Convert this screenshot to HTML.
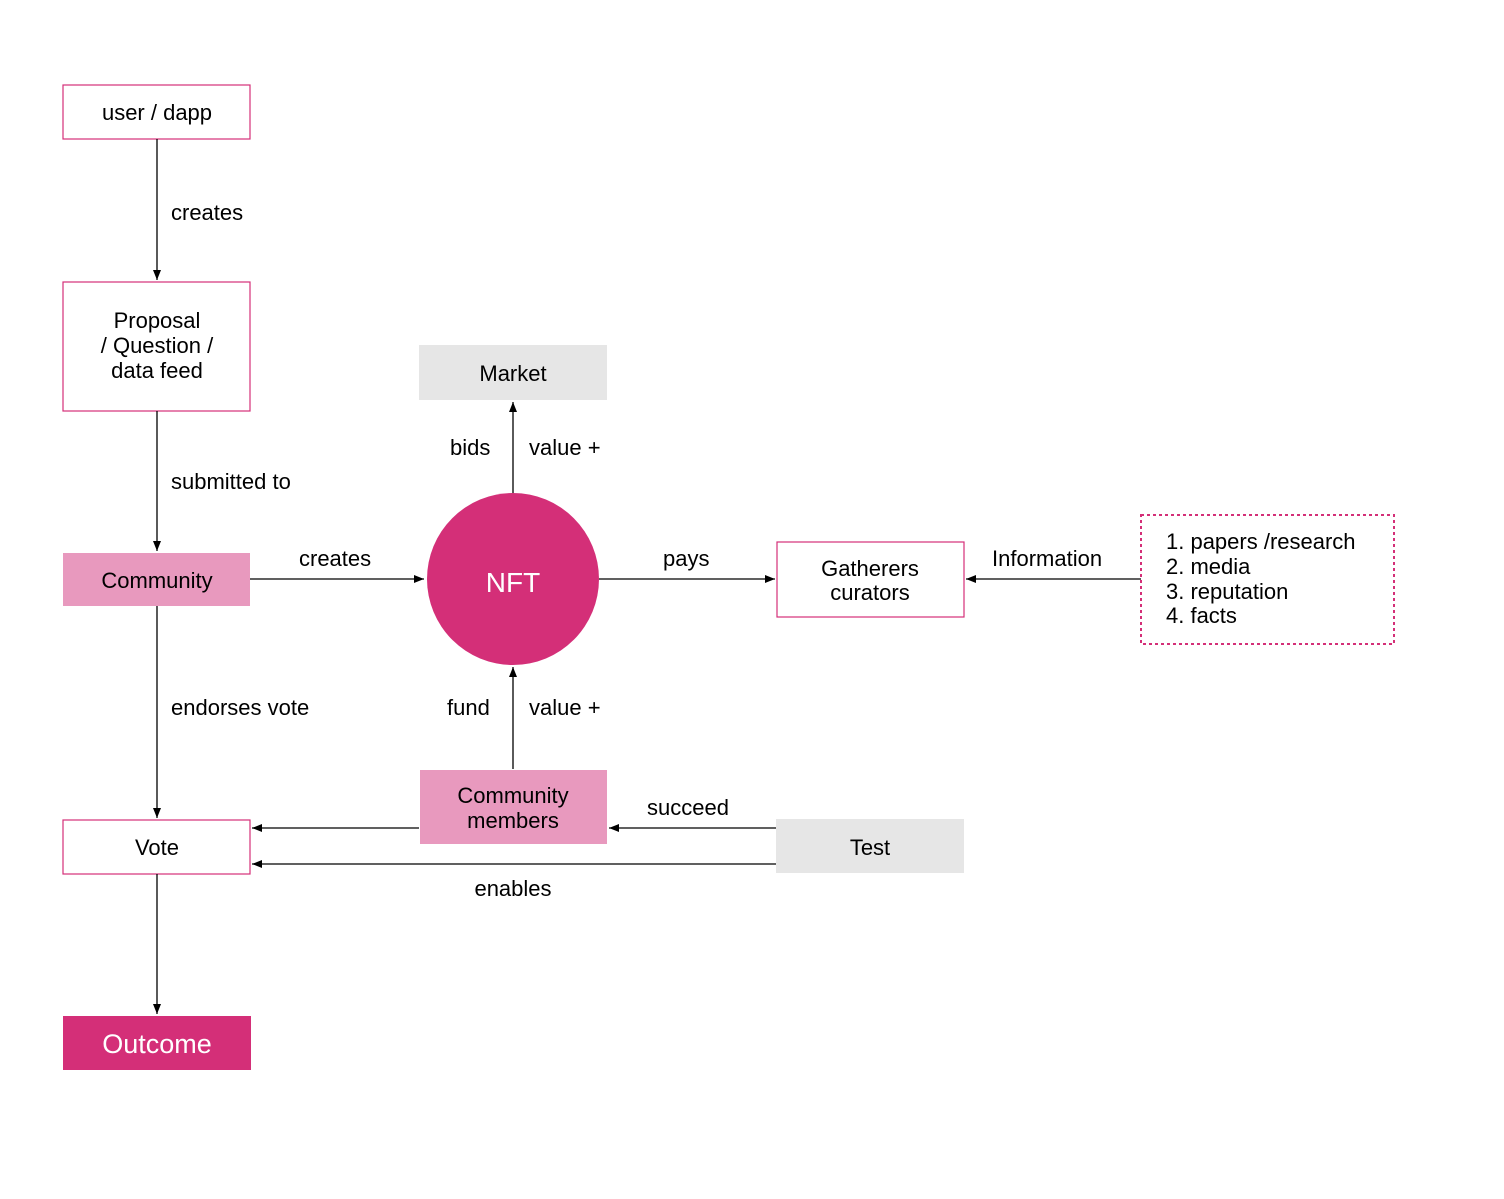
<!DOCTYPE html>
<html><head><style>body{margin:0;background:#fff}svg text{font-family:"Liberation Sans",sans-serif;font-size:22px;fill:#000}</style></head><body>
<svg width="1504" height="1194" viewBox="0 0 1504 1194" xmlns="http://www.w3.org/2000/svg">
<defs><marker id="a" markerWidth="10" markerHeight="8" refX="10" refY="4" orient="auto" markerUnits="userSpaceOnUse"><path d="M0,0 L10,4 L0,8 Z" fill="#000"/></marker></defs>
<g fill="none" stroke="#d42f78" stroke-width="1.2">
<rect x="63" y="85" width="187" height="54" fill="#fff"/>
<rect x="63" y="282" width="187" height="129" fill="#fff"/>
<rect x="63" y="820" width="187" height="54" fill="#fff"/>
<rect x="777" y="542" width="187" height="75" fill="#fff"/>
<rect x="1141" y="515" width="253" height="129" stroke-dasharray="3,3" stroke-width="2"/>
</g>
<rect x="63" y="553" width="187" height="53" fill="#e899be"/>
<rect x="420" y="770" width="187" height="74" fill="#e899be"/>
<rect x="63" y="1016" width="188" height="54" fill="#d42f78"/>
<rect x="419" y="345" width="188" height="55" fill="#e6e6e6"/>
<rect x="776" y="819" width="188" height="54" fill="#e6e6e6"/>
<circle cx="513" cy="579" r="86" fill="#d42f78"/>
<g stroke="#000" stroke-width="1.3" marker-end="url(#a)">
<line x1="157" y1="139" x2="157" y2="280"/>
<line x1="157" y1="411" x2="157" y2="551"/>
<line x1="157" y1="606" x2="157" y2="818"/>
<line x1="157" y1="874" x2="157" y2="1014"/>
<line x1="250" y1="579" x2="424" y2="579"/>
<line x1="599" y1="579" x2="775" y2="579"/>
<line x1="1141" y1="579" x2="966" y2="579"/>
<line x1="513" y1="493" x2="513" y2="402"/>
<line x1="513" y1="769" x2="513" y2="667"/>
<line x1="419" y1="828" x2="252" y2="828"/>
<line x1="776" y1="828" x2="609" y2="828"/>
<line x1="776" y1="864" x2="252" y2="864"/>
</g>
<g text-anchor="middle">
<text x="157" y="120">user / dapp</text>
<text x="157" y="328">Proposal</text>
<text x="157" y="353">/ Question /</text>
<text x="157" y="378">data feed</text>
<text x="157" y="588">Community</text>
<text x="157" y="855">Vote</text>
<text x="157" y="1053" style="font-size:27px;fill:#fff">Outcome</text>
<text x="513" y="381">Market</text>
<text x="513" y="592" style="font-size:28px;fill:#fff">NFT</text>
<text x="870" y="576">Gatherers</text>
<text x="870" y="600">curators</text>
<text x="513" y="803">Community</text>
<text x="513" y="828">members</text>
<text x="870" y="855">Test</text>
<text x="513" y="896">enables</text>
</g>
<text x="171" y="220">creates</text>
<text x="171" y="489">submitted to</text>
<text x="171" y="715">endorses vote</text>
<text x="299" y="566">creates</text>
<text x="663" y="566">pays</text>
<text x="992" y="566">Information</text>
<text x="450" y="455">bids</text>
<text x="529" y="455">value +</text>
<text x="447" y="715">fund</text>
<text x="529" y="715">value +</text>
<text x="647" y="815">succeed</text>
<text x="1166" y="549">1. papers /research</text>
<text x="1166" y="574">2. media</text>
<text x="1166" y="599">3. reputation</text>
<text x="1166" y="623">4. facts</text>
</svg>
</body></html>
